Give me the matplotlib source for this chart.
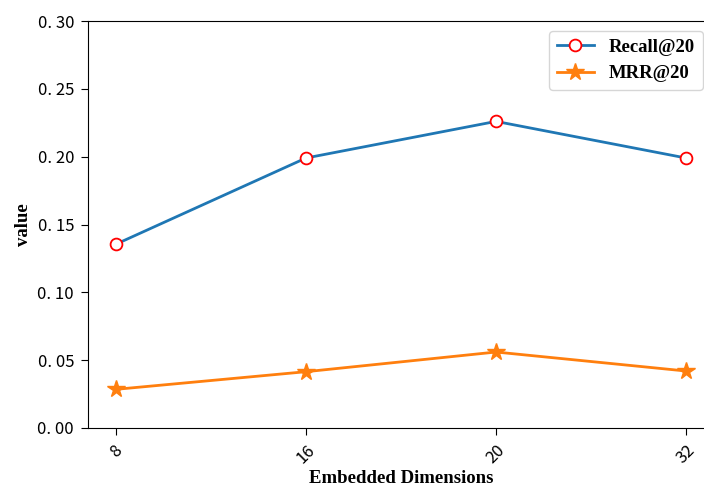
import matplotlib
matplotlib.use('Agg')
import matplotlib.pyplot as plt

# embedding size sweep
dims = ['8', '16', '20', '32']
recall = [0.1355, 0.1990, 0.2260, 0.1990]
mrr = [0.0285, 0.0415, 0.0560, 0.0420]

label_font = {'family': 'Liberation Serif', 'weight': 'bold', 'size': 13.5}
tick_family = ['Noto Sans CJK SC', 'DejaVu Sans']

fig = plt.figure(figsize=(7.04, 4.88), dpi=100)
ax = fig.add_axes([88 / 704, 60 / 488, 626 / 704, 407 / 488])

x = range(len(dims))
ax.plot(x, recall, color='#1f77b4', linewidth=2, marker='o', markersize=8.5,
        markerfacecolor='white', markeredgecolor='red', markeredgewidth=1.3,
        label='Recall@20')
ax.plot(x, mrr, color='#ff7f0e', linewidth=2, marker='*', markersize=13,
        label='MRR@20')

ax.set_xlim(-0.147, 3.147)
ax.set_ylim(0.0, 0.30)
ax.set_xticks(list(x))
ax.set_xticklabels(dims, rotation=45, fontsize=12, family=tick_family)
ax.set_yticks([0.0, 0.05, 0.10, 0.15, 0.20, 0.25, 0.30])
ax.set_yticklabels(['0. 00', '0. 05', '0. 10', '0. 15', '0. 20', '0. 25', '0. 30'],
                   fontsize=12, family=tick_family)
ax.tick_params(axis='y', length=5, pad=5)
ax.tick_params(axis='x', length=5, pad=5)

ax.set_xlabel('Embedded Dimensions', fontdict=label_font, labelpad=2)
ax.set_ylabel('value', fontdict=label_font)

ax.legend(loc='upper right', bbox_to_anchor=(0.997, 0.998),
          prop={'family': 'Liberation Serif', 'weight': 'bold', 'size': 13.5})

fig.savefig('out.png', dpi=100)
